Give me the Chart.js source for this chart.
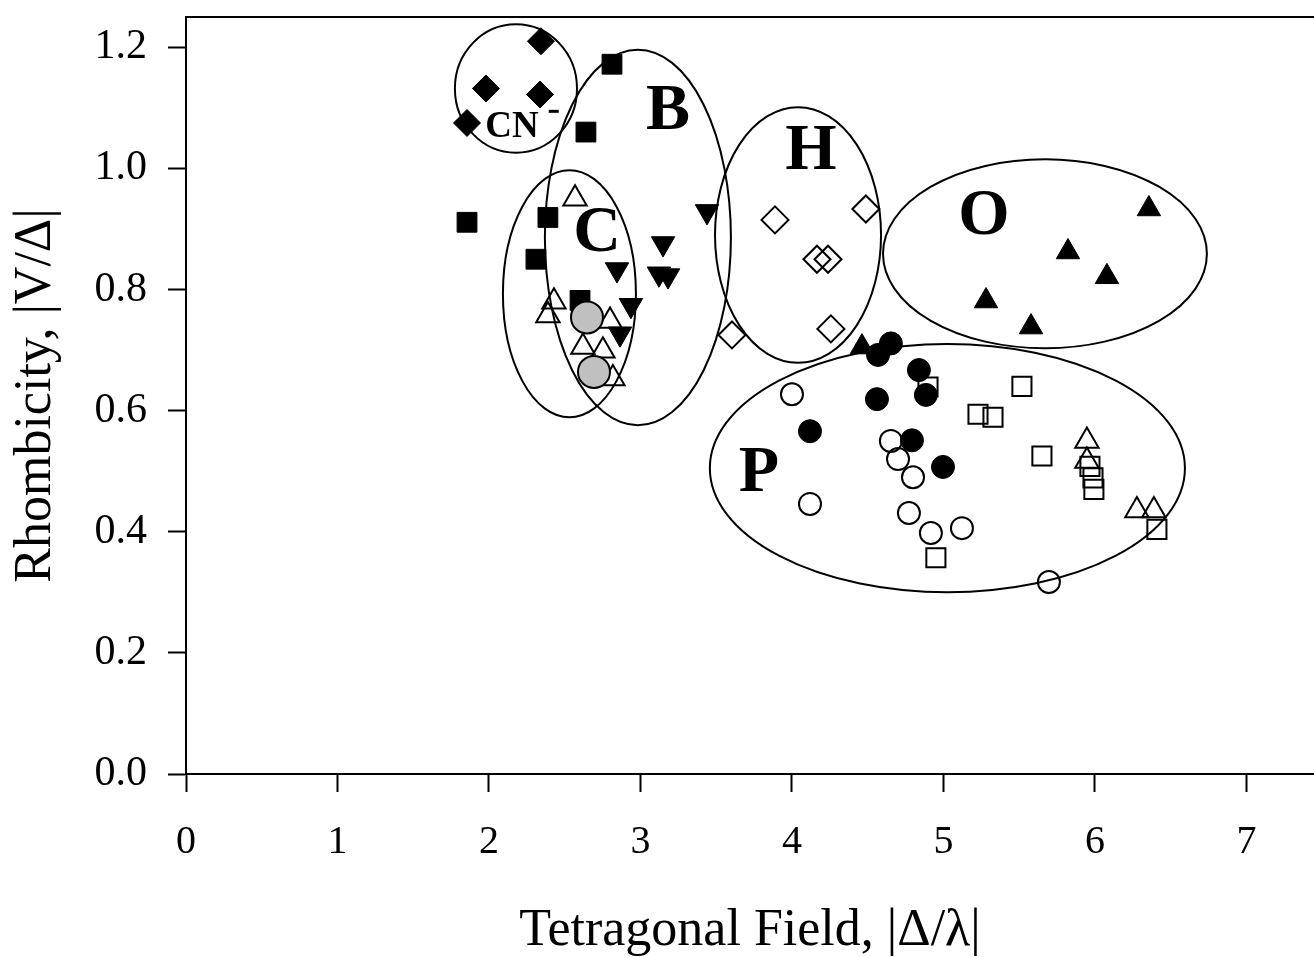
<!DOCTYPE html>
<html>
<head>
<meta charset="utf-8">
<title>Rhombicity vs Tetragonal Field</title>
<script src="https://cdn.jsdelivr.net/npm/chart.js@4.4.0/dist/chart.umd.min.js"></script>
<style>
    html, body { margin: 0; padding: 0; background: #fff; }
    #chart { display: block; }
</style>
</head>
<body>
<canvas id="chart" width="1314" height="957"></canvas>
<script>
// Tick values / labels
const xTickValues = [0, 1, 2, 3, 4, 5, 6, 7];
const yTickValues = [0, 0.2, 0.4, 0.6, 0.8, 1.0, 1.2];
const yTickLabels = ['0.0', '0.2', '0.4', '0.6', '0.8', '1.0', '1.2'];

// Cyanide complexes (filled diamonds)
const cyanideX = [2.343, 1.980, 2.337, 1.855];
const cyanideY = [1.210, 1.132, 1.122, 1.075];

// Filled squares
const filledSquareX = [2.812, 2.640, 1.855, 2.389, 2.310, 2.601];
const filledSquareY = [1.172, 1.060, 0.911, 0.919, 0.850, 0.782];

// Filled down triangles
const downTriangleX = [3.439, 3.149, 2.845, 3.122, 3.182, 2.937, 2.865];
const downTriangleY = [0.929, 0.876, 0.833, 0.826, 0.823, 0.774, 0.727];

// Open up triangles
const openTriangleX = [2.568, 2.429, 2.389, 2.799, 2.620, 2.752, 2.818, 5.947, 5.947, 6.277, 6.389];
const openTriangleY = [0.950, 0.780, 0.757, 0.748, 0.705, 0.699, 0.653, 0.550, 0.517, 0.435, 0.435];

// Gray circles
const grayCircleX = [2.647, 2.693];
const grayCircleY = [0.754, 0.664];

// Open diamonds
const openDiamondX = [3.888, 4.488, 4.165, 4.238, 4.257, 3.604];
const openDiamondY = [0.915, 0.933, 0.850, 0.850, 0.735, 0.725];

// Filled up triangles
const filledTriangleX = [6.356, 5.822, 6.079, 5.281, 5.578, 4.462];
const filledTriangleY = [0.933, 0.862, 0.821, 0.781, 0.738, 0.705];

// Filled circles
const filledCircleX = [4.653, 4.568, 4.838, 4.561, 4.884, 4.119, 4.792, 4.997];
const filledCircleY = [0.711, 0.692, 0.667, 0.619, 0.626, 0.566, 0.551, 0.507];

// Open circles
const openCircleX = [4.000, 4.653, 4.700, 4.799, 4.119, 4.772, 4.917, 5.122, 5.696];
const openCircleY = [0.627, 0.550, 0.520, 0.490, 0.446, 0.431, 0.398, 0.406, 0.317];

// Open squares
const openSquareX = [4.898, 5.228, 5.327, 4.950, 5.518, 5.650, 5.967, 5.987, 5.993, 6.409];
const openSquareY = [0.639, 0.594, 0.589, 0.357, 0.640, 0.525, 0.508, 0.489, 0.470, 0.404];

// Region ellipses (data units): CN, B, C, H, O, P
const regionCenterX = [2.178, 2.983, 2.531, 4.040, 5.670, 5.026];
const regionCenterY = [1.132, 0.886, 0.793, 0.890, 0.859, 0.505];
const regionRadiusX = [0.403, 0.614, 0.439, 0.548, 1.069, 1.568];
const regionRadiusY = [0.106, 0.310, 0.204, 0.211, 0.156, 0.205];

// Region labels
const regionNames = ['CN', 'B', 'C', 'H', 'O', 'P'];
const regionLabelX = [2.152, 3.182, 2.713, 4.125, 5.267, 3.782];
const regionLabelY = [1.067, 1.093, 0.891, 1.027, 0.920, 0.495];

const SERIF = "'Liberation Serif', 'Times New Roman', serif";

function zip(xs, ys) {
    return xs.map((x, i) => ({ x: x, y: ys[i] }));
}

// ellipses + region letters + top frame line
const regionPlugin = {
    id: 'regions',
    beforeDatasetsDraw(chart) {
        const { ctx, scales: { x, y }, chartArea } = chart;
        ctx.save();
        ctx.strokeStyle = '#000';
        ctx.lineWidth = 2;

        // top frame
        ctx.beginPath();
        ctx.moveTo(chartArea.left, chartArea.top);
        ctx.lineTo(chartArea.right, chartArea.top);
        ctx.stroke();

        regionCenterX.forEach((cx, i) => {
            const px = x.getPixelForValue(cx);
            const py = y.getPixelForValue(regionCenterY[i]);
            const rx = x.getPixelForValue(cx + regionRadiusX[i]) - px;
            const ry = py - y.getPixelForValue(regionCenterY[i] + regionRadiusY[i]);
            ctx.beginPath();
            ctx.ellipse(px, py, rx, ry, 0, 0, Math.PI * 2);
            ctx.stroke();
        });

        ctx.fillStyle = '#000';
        ctx.textAlign = 'center';
        ctx.textBaseline = 'middle';
        regionNames.forEach((name, i) => {
            const px = x.getPixelForValue(regionLabelX[i]);
            const py = y.getPixelForValue(regionLabelY[i]);
            if (name === 'CN') {
                ctx.font = 'bold 37px ' + SERIF;
                ctx.fillText(name, px, py);
                // superscript minus
                const w = ctx.measureText(name).width;
                ctx.fillRect(px + w / 2 + 10, py - 18, 10, 3);
            } else {
                ctx.font = 'bold 66px ' + SERIF;
                ctx.fillText(name, px, py);
            }
        });
        ctx.restore();
    }
};

function makeSet(label, xs, ys, style, radius, filled, extra) {
    return Object.assign({
        label: label,
        data: zip(xs, ys),
        pointStyle: style,
        pointRadius: radius,
        backgroundColor: filled ? '#000' : 'rgba(0,0,0,0)',
        borderColor: '#000',
        borderWidth: filled ? 1 : 2,
        showLine: false
    }, extra || {});
}

// keep the plot area where the figure has it: no extra label padding
function noEdgePadding(axis) {
    axis.paddingTop = 0;
    axis.paddingBottom = 0;
    axis.paddingLeft = 0;
    axis.paddingRight = 0;
}

const ctx = document.getElementById('chart').getContext('2d');
const chart = new Chart(ctx, {
    type: 'scatter',
    data: {
        datasets: [
            makeSet('Gray circles', grayCircleX, grayCircleY, 'circle', 16, true, { backgroundColor: '#c0c0c0', borderWidth: 2 }),
            makeSet('Filled circles', filledCircleX, filledCircleY, 'circle', 11.5, true),
            makeSet('Cyanide', cyanideX, cyanideY, 'rectRot', 13.5, true),
            makeSet('Filled squares', filledSquareX, filledSquareY, 'rect', 14, true),
            makeSet('Down triangles', downTriangleX, downTriangleY, 'triangle', 13.5, true, { pointRotation: 180 }),
            makeSet('Filled triangles', filledTriangleX, filledTriangleY, 'triangle', 13.5, true),
            makeSet('Open triangles', openTriangleX, openTriangleY, 'triangle', 13.5, false),
            makeSet('Open diamonds', openDiamondX, openDiamondY, 'rectRot', 13.5, false),
            makeSet('Open circles', openCircleX, openCircleY, 'circle', 11, false),
            makeSet('Open squares', openSquareX, openSquareY, 'rect', 13.5, false)
        ]
    },
    options: {
        responsive: false,
        animation: false,
        events: [],
        layout: {
            // the original figure is cropped on the right, so no auto padding there
            autoPadding: false,
            padding: { top: 17, right: 0, left: 0, bottom: 0 }
        },
        plugins: {
            legend: { display: false },
            tooltip: { enabled: false }
        },
        scales: {
            x: {
                type: 'linear',
                min: 0,
                max: 7.446,
                afterBuildTicks: axis => {
                    axis.ticks = xTickValues.map(v => ({ value: v }));
                },
                afterFit: axis => {
                    axis.height = 183;
                    noEdgePadding(axis);
                },
                ticks: {
                    color: '#000',
                    font: { family: SERIF, size: 40 },
                    padding: 26,
                    maxRotation: 0
                },
                grid: {
                    drawOnChartArea: false,
                    drawTicks: true,
                    tickLength: 18,
                    tickWidth: 2,
                    tickColor: '#000'
                },
                border: { display: true, color: '#000', width: 2 },
                title: {
                    display: true,
                    text: 'Tetragonal Field, |\u0394/\u03bb|',
                    color: '#000',
                    font: { family: SERIF, size: 52, lineHeight: 1 },
                    padding: { top: 0, bottom: 0 }
                }
            },
            y: {
                type: 'linear',
                min: 0,
                max: 1.25,
                afterBuildTicks: axis => {
                    axis.ticks = yTickValues.map(v => ({ value: v }));
                },
                afterFit: axis => {
                    axis.width = 186;
                    noEdgePadding(axis);
                },
                ticks: {
                    color: '#000',
                    font: { family: SERIF, size: 42 },
                    padding: 21,
                    callback: (value) => {
                        const i = yTickValues.findIndex(v => Math.abs(v - value) < 1e-6);
                        return i >= 0 ? yTickLabels[i] : '';
                    }
                },
                grid: {
                    drawOnChartArea: false,
                    drawTicks: true,
                    tickLength: 18,
                    tickWidth: 2,
                    tickColor: '#000'
                },
                border: { display: true, color: '#000', width: 2 },
                title: {
                    display: true,
                    text: 'Rhombicity, |V/\u0394|',
                    color: '#000',
                    font: { family: SERIF, size: 52, lineHeight: 1 },
                    padding: { top: 10, bottom: 0 }
                }
            }
        }
    },
    plugins: [regionPlugin]
});
</script>
</body>
</html>
